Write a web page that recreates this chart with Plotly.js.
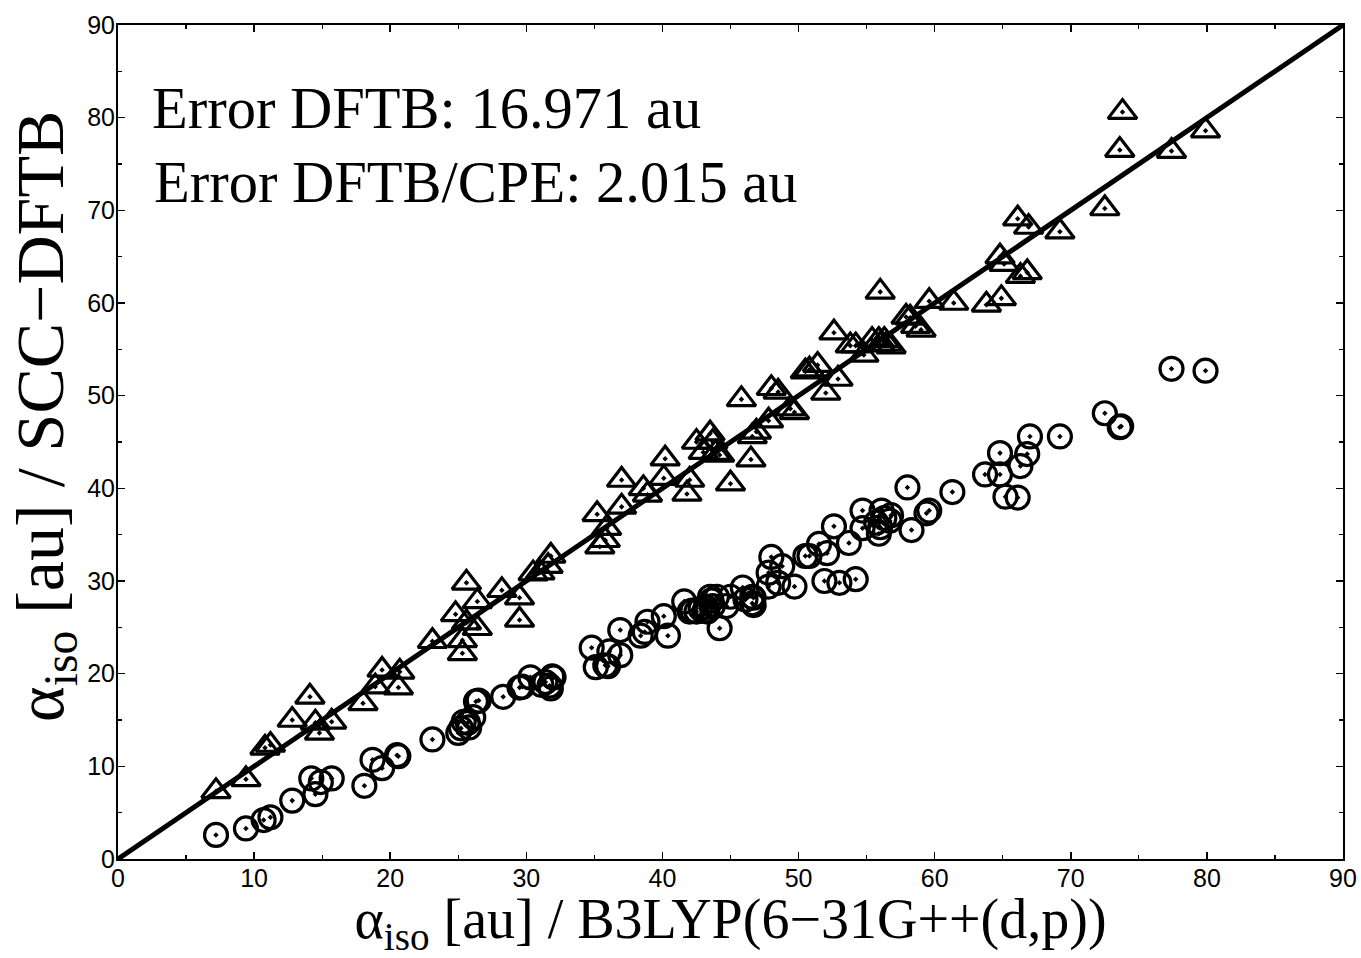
<!DOCTYPE html>
<html>
<head>
<meta charset="utf-8">
<script src="https://cdn.plot.ly/plotly-3.0.1.min.js"></script>
<style>html,body{margin:0;padding:0;background:#fff;}#chart{width:1361px;height:958px;}</style>
</head>
<body>
<div id="chart"></div>
<script>
// DFTB (triangles): B3LYP reference vs SCC-DFTB with CPE
const dftbCpeX = [7.2,9.4,10.8,11.2,12.8,14.1,14.5,14.8,15.7,18.0,18.9,19.4,20.6,20.7,23.1,24.8,25.6,25.3,25.3,25.6,26.4,26.4,28.2,29.5,29.5,30.5,31.0,31.6,31.8,35.2,35.4,35.8,35.9,37.0,37.0,38.6,38.9,40.2,40.1,42.0,41.8,42.5,43.0,43.5,43.7,43.9,44.2,45.0,45.8,46.5,46.6,46.9,47.8,48.0,48.5,49.4,49.7,50.5,50.8,51.4,52.6,52.0,52.9,53.8,54.2,54.8,55.4,55.9,56.0,56.0,56.3,56.5,56.8,57.9,58.2,58.6,59.0,59.6,61.4,63.8,64.9,64.8,65.1,66.1,66.3,66.8,66.9,69.2,72.5,73.6,73.8,77.4,79.9];
const dftbCpeY = [7.3,8.6,12.0,12.3,15.0,17.5,14.7,13.6,14.8,16.8,18.6,20.4,18.5,20.2,23.5,26.4,29.8,22.2,23.6,25.5,27.8,24.9,29.0,25.8,28.2,30.8,30.9,31.6,32.7,37.2,33.7,34.4,35.7,40.9,38.0,40.0,39.3,43.2,41.1,40.9,39.4,45.0,43.9,45.9,45.0,43.8,43.6,40.5,49.6,43.1,45.6,46.1,47.3,50.8,50.4,48.6,48.2,52.6,52.8,53.3,56.8,50.3,51.8,55.4,55.4,54.4,56.0,56.0,61.2,55.5,56.0,55.6,55.3,58.5,58.4,57.5,57.1,60.2,60.0,59.8,60.5,65.0,64.2,69.1,62.9,63.3,68.2,67.7,70.2,76.5,80.6,76.4,78.6];
// DFTB (circles): B3LYP reference vs plain SCC-DFTB
const dftbX = [7.2,9.4,10.7,11.2,12.8,14.2,14.5,14.9,15.7,18.1,18.7,19.4,20.5,20.6,23.1,25.0,25.2,25.4,25.7,25.8,26.1,26.3,26.5,28.3,29.5,29.7,30.3,31.1,31.4,31.7,31.8,31.9,32.0,34.8,35.1,35.8,36.0,36.1,36.9,36.9,38.4,38.7,38.9,40.1,40.4,41.6,42.0,42.2,42.5,42.8,43.1,43.2,43.3,43.5,43.6,44.0,43.7,44.2,44.7,45.0,45.9,46.1,46.6,46.7,46.6,46.7,47.8,47.8,48.0,48.5,48.8,49.7,50.5,50.8,51.5,52.1,51.9,52.6,53.0,53.7,54.2,54.7,54.7,55.7,55.9,56.0,56.1,56.3,56.7,56.8,58.0,58.3,59.4,59.6,61.3,63.7,64.8,64.8,65.2,66.1,66.3,66.8,67.0,69.2,72.5,73.6,73.7,77.4,79.9];
const dftbY = [2.6,3.3,4.2,4.5,6.3,8.7,7.0,8.3,8.7,7.9,10.7,9.8,11.2,11.1,12.9,13.6,14.1,14.8,14.7,14.2,15.3,17.0,17.1,17.5,18.5,18.6,19.6,18.8,19.1,18.7,18.4,19.7,19.6,22.8,20.7,20.9,20.8,22.4,22.0,24.7,24.1,24.5,25.6,26.2,24.1,27.8,26.7,26.8,26.7,27.0,26.8,27.2,26.7,28.3,27.9,28.3,27.3,24.9,27.3,28.3,29.3,28.0,28.3,28.2,27.6,27.4,30.9,29.4,32.6,29.8,31.6,29.4,32.7,32.7,34.0,33.0,30.0,35.9,29.8,34.1,30.2,37.6,35.7,36.3,35.1,35.8,37.6,36.8,36.5,37.1,40.1,35.5,37.3,37.6,39.6,41.5,43.8,41.5,39.1,39.0,42.4,43.7,45.6,45.6,48.1,46.6,46.7,52.9,52.7];
// identity line
const diagX = [0, 90];
const diagY = [0, 90];
const tickVals = [0,10,20,30,40,50,60,70,80,90];
const tickText = ['0','10','20','30','40','50','60','70','80','90'];
const noteLines = ['Error DFTB: 16.971 au', 'Error DFTB/CPE: 2.015 au'];
const xTitle = '\u03b1<sub>iso</sub> [au] / B3LYP(6\u221231G++(d,p))';
const yTitle = '\u03b1<sub>iso</sub> [au] / SCC\u2212DFTB';

const serif = 'Liberation Serif, Times New Roman, serif';
const sans = 'Liberation Sans, Arial, sans-serif';

const traces = [
  {x: diagX, y: diagY, mode: 'lines', line: {color: '#000', width: 5}, hoverinfo: 'skip', showlegend: false},
  {x: dftbX, y: dftbY, mode: 'markers', showlegend: false,
   marker: {symbol: 'circle-open-dot', size: 23, color: '#000', line: {color: '#000', width: 3.2}}},
  {x: dftbCpeX, y: dftbCpeY, mode: 'markers', showlegend: false,
   marker: {symbol: 'triangle-up-open-dot', size: 25, color: '#000', line: {color: '#000', width: 3.2}}}
];

function axisCommon() {
  return {
    range: [0, 90], tickvals: tickVals, ticktext: tickText,
    ticks: 'inside', ticklen: 7, tickwidth: 1.5, tickcolor: '#000',
    showline: true, linecolor: '#000', linewidth: 2, mirror: 'ticks',
    showgrid: false, zeroline: false,
    minor: {dtick: 5, tick0: 0, ticks: 'inside', ticklen: 4, tickwidth: 1.2, tickcolor: '#000', showgrid: false},
    tickfont: {family: sans, size: 25, color: '#000'}
  };
}

const layout = {
  width: 1361, height: 958,
  margin: {l: 118, r: 18, t: 25, b: 99},
  paper_bgcolor: '#fff', plot_bgcolor: '#fff',
  xaxis: Object.assign(axisCommon(), {
    ticklabelstandoff: -4,
    title: {text: xTitle, font: {family: serif, size: 56, color: '#000'}, standoff: 9}
  }),
  yaxis: Object.assign(axisCommon(), {ticklabelstandoff: -4}),
  annotations: [
    {text: noteLines[0], xref: 'paper', yref: 'paper', x: 0.026, y: 0.900, xanchor: 'left', yanchor: 'middle', showarrow: false,
     font: {family: serif, size: 58.5, color: '#000'}},
    {text: noteLines[1], xref: 'paper', yref: 'paper', x: 0.028, y: 0.811, xanchor: 'left', yanchor: 'middle', showarrow: false,
     font: {family: serif, size: 58.5, color: '#000'}},
    {text: yTitle, xref: 'paper', yref: 'paper', x: (45 - 118) / 1225, y: 0.530, xanchor: 'center', yanchor: 'middle',
     textangle: -90, showarrow: false, font: {family: serif, size: 68, color: '#000'}}
  ],
  showlegend: false
};

Plotly.newPlot('chart', traces, layout, {displayModeBar: false, staticPlot: true});
</script>
</body>
</html>
